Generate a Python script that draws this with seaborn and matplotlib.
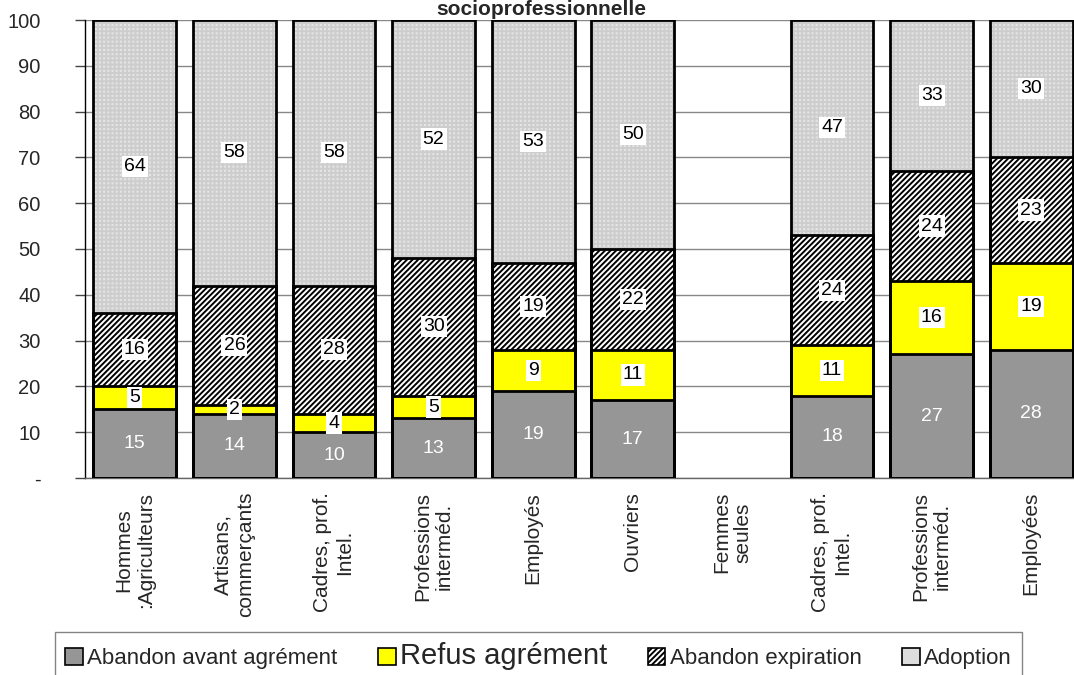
import numpy as np
import pandas as pd
import matplotlib.pyplot as plt
import seaborn as sns
from matplotlib.patches import Patch

# Data (percent of each outcome per category)
categories = ["Hommes\n:Agriculteurs", "Artisans,\ncommerçants", "Cadres, prof.\nIntel.",
              "Professions\ninterméd.", "Employés", "Ouvriers", "Femmes\nseules",
              "Cadres, prof.\nIntel.", "Professions\ninterméd.", "Employées"]
abandon_avant = [15, 14, 10, 13, 19, 17, np.nan, 18, 27, 28]
refus = [5, 2, 4, 5, 9, 11, np.nan, 11, 16, 19]
abandon_expiration = [16, 26, 28, 30, 19, 22, np.nan, 24, 24, 23]
adoption = [64, 58, 58, 52, 53, 50, np.nan, 47, 33, 30]
series_names = ["Abandon avant agrément", "Refus agrément", "Abandon expiration", "Adoption"]
yticks = [0, 10, 20, 30, 40, 50, 60, 70, 80, 90, 100]
ytick_labels = ["-", "10", "20", "30", "40", "50", "60", "70", "80", "90", "100"]
title = "socioprofessionnelle"

sns.set_style("white")
plt.rcParams["font.family"] = ["Liberation Sans", "DejaVu Sans"]
plt.rcParams["hatch.linewidth"] = 1.4

# styles per series: face colour, hatch, hatch colour
styles = [
    dict(face="#969696", hatch=None, hcol="#969696"),
    dict(face="#ffff00", hatch=None, hcol="#ffff00"),
    dict(face="#ffffff", hatch="//////", hcol="#000000"),
    dict(face="#e4e4e4", hatch="++++", hcol="#cdcdcd"),
]

values = np.array([abandon_avant, refus, abandon_expiration, adoption], dtype=float)
tops = np.cumsum(values, axis=0)
keys = [str(i) for i in range(len(categories))]

fig = plt.figure(figsize=(10.74, 6.75), dpi=100)
ax = fig.add_axes([85 / 1074, 197 / 675, 996 / 1074, 458 / 675])

# stacked bars: draw cumulative totals from the top layer down
for i in reversed(range(len(series_names))):
    d = pd.DataFrame({"key": keys, "top": tops[i]}).dropna()
    st = styles[i]
    kw = dict(hatch=st["hatch"]) if st["hatch"] else {}
    sns.barplot(data=d, x="key", y="top", order=keys, color=st["face"], saturation=1,
                edgecolor=st["hcol"], linewidth=0, width=0.83,
                errorbar=None, ax=ax, zorder=2, **kw)
    sns.barplot(data=d, x="key", y="top", order=keys, fill=False, color="black",
                linewidth=2, width=0.83, errorbar=None, ax=ax, zorder=3)

# value labels
for j in range(len(categories)):
    if np.isnan(values[0, j]):
        continue
    for i in range(len(series_names)):
        v = values[i, j]
        y = tops[i, j] - v / 2
        if i == 0:
            ax.text(j, y, f"{v:.0f}", ha="center", va="center", fontsize=14,
                    color="white", zorder=5)
        else:
            ax.text(j, y, f"{v:.0f}", ha="center", va="center", fontsize=14,
                    color="black", zorder=5,
                    bbox=dict(facecolor="white", edgecolor="none", pad=1.5))

ax.set_xlim(-0.5, len(categories) - 0.5)
ax.set_ylim(0, 100)
ax.set_xlabel("")
ax.set_ylabel("")
ax.set_xticks(range(len(categories)))
ax.set_xticklabels(categories, rotation=90, fontsize=15, ha="center", va="top",
                   multialignment="center")
ax.set_xticks(np.arange(-0.5, len(categories), 1), minor=True)
ax.tick_params(axis="x", which="major", length=0, pad=10)
ax.tick_params(axis="x", which="minor", length=7, width=1, color="#444444", direction="out")
ax.set_yticks(yticks)
ax.set_yticklabels(ytick_labels, fontsize=14.5)
ax.tick_params(axis="y", length=7, width=1, color="#444444", direction="out", pad=25, left=True)

ax.yaxis.grid(True, color="#888888", linewidth=1)
ax.xaxis.grid(False)
ax.set_axisbelow(True)
for s in ["top", "right"]:
    ax.spines[s].set_visible(False)
ax.spines["left"].set_color("black")
ax.spines["left"].set_linewidth(1)
ax.spines["bottom"].set_color("#666666")
ax.spines["bottom"].set_linewidth(1)

fig.text(541 / 1074, 1 - 15 / 675, title, ha="center", va="baseline",
         fontsize=15, fontweight="bold")

# legend
handles = [
    Patch(facecolor="#969696", edgecolor="black", linewidth=1.2),
    Patch(facecolor="#ffff00", edgecolor="black", linewidth=1.2),
    Patch(facecolor="#ffffff", edgecolor="black", hatch="//////", linewidth=1.2),
    Patch(facecolor="#dddddd", edgecolor="black", linewidth=1.2),
]
leg = fig.legend(handles, series_names, loc="upper left",
                 bbox_to_anchor=(55 / 1074, 1 - 632 / 675 - 0.2, 967 / 1074, 0.2),
                 mode="expand", ncol=4, fontsize=16,
                 frameon=True, fancybox=False, edgecolor="#666666",
                 handlelength=0.8, handleheight=0.8, handletextpad=0.2,
                 columnspacing=0.5, borderpad=0.45, borderaxespad=0)
leg.get_frame().set_linewidth(1)
leg.get_texts()[1].set_fontsize(21)

fig.savefig("out.png", dpi=100)
